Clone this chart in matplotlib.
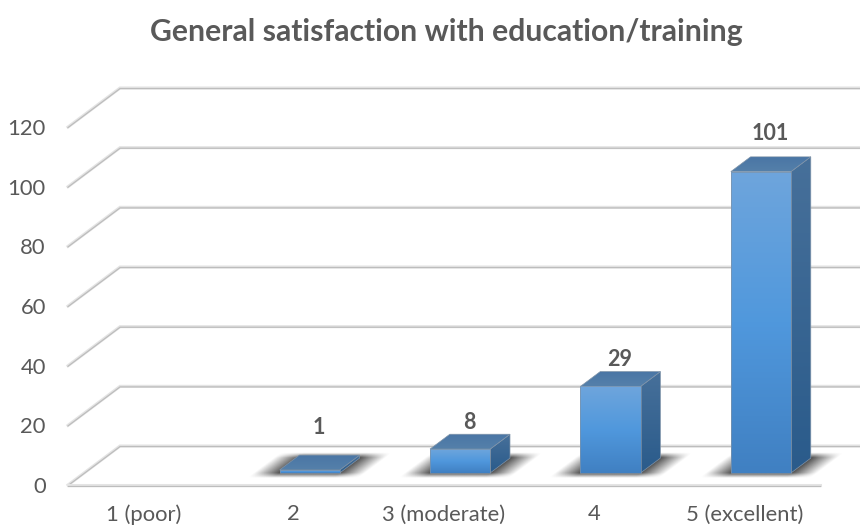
import numpy as np
import matplotlib
matplotlib.use('Agg')
import matplotlib.pyplot as plt
import matplotlib.patheffects as pe
from matplotlib.colors import LinearSegmentedColormap
from matplotlib.patches import Polygon

plt.rcParams['font.family'] = ['Lato', 'DejaVu Sans']

categories = ['1 (poor)', '2', '3 (moderate)', '4', '5 (excellent)']
values = [0, 1, 8, 29, 101]
y_ticks = [0, 20, 40, 60, 80, 100, 120]
title = 'General satisfaction with education/training'

TEXT = '#595959'
# oblique projection: how far the back wall is shifted from the front plane
DEPTH_X = 0.346
DEPTH_Y = 13.07
BAR_WIDTH = 0.40
BAR_NEAR = 0.31
BAR_FAR = 0.69

front_cmap = LinearSegmentedColormap.from_list('front', ['#6ea5dc', '#5098dd', '#4080c2'])
side_cmap = LinearSegmentedColormap.from_list('side', ['#47709a', '#2a5b8b'])
top_cmap = LinearSegmentedColormap.from_list('top', ['#4a76a5', '#5580aa'])


def project(x, y, depth):
    return x + depth * DEPTH_X, y + depth * DEPTH_Y


def soft_box(t, lo, hi, soft):
    a = np.clip((t - lo) / soft, 0, 1)
    b = np.clip((hi - t) / soft, 0, 1)
    return a * b


def gradient_face(ax, corners, cmap, zorder):
    xs = [c[0] for c in corners]
    ys = [c[1] for c in corners]
    grad = np.linspace(0, 1, 128).reshape(-1, 1)
    im = ax.imshow(grad, cmap=cmap, aspect='auto', origin='upper', zorder=zorder,
                   extent=[min(xs), max(xs), min(ys), max(ys)], clip_on=True)
    outline = Polygon(corners, closed=True, facecolor='none', edgecolor='#7f93a8',
                      linewidth=0.5, zorder=zorder + 0.1, clip_on=False)
    ax.add_patch(outline)
    im.set_clip_path(outline)


def floor_shadow(ax, center):
    # soft dark patch on the floor, sheared along the depth direction
    x = np.linspace(center - 0.5, center + 0.8, 300)
    y = np.linspace(0, 16, 120)
    xx, yy = np.meshgrid(x, y)
    depth = yy / DEPTH_Y
    u = xx - depth * DEPTH_X - center
    alpha = soft_box(u, -BAR_WIDTH / 2 - 0.17, BAR_WIDTH / 2 + 0.17, 0.17)
    alpha = alpha * soft_box(depth, 0.18, 0.83, 0.13) * 0.85
    rgba = np.zeros(xx.shape + (4,))
    rgba[..., :3] = 0.2
    rgba[..., 3] = alpha
    ax.imshow(rgba, aspect='auto', origin='lower', zorder=2, clip_on=False,
              extent=[x[0], x[-1], y[0], y[-1]], interpolation='bilinear')


def draw_bar(ax, center, value):
    left = center - BAR_WIDTH / 2
    right = center + BAR_WIDTH / 2
    fbl = project(left, 0, BAR_NEAR)
    fbr = project(right, 0, BAR_NEAR)
    ftl = project(left, value, BAR_NEAR)
    ftr = project(right, value, BAR_NEAR)
    bbr = project(right, 0, BAR_FAR)
    btr = project(right, value, BAR_FAR)
    btl = project(left, value, BAR_FAR)
    floor_shadow(ax, center)
    gradient_face(ax, [fbr, bbr, btr, ftr], side_cmap, 3)
    gradient_face(ax, [ftl, ftr, btr, btl], top_cmap, 3.2)
    gradient_face(ax, [fbl, fbr, ftr, ftl], front_cmap, 3.4)
    return btr[1]


fig = plt.figure(figsize=(8.6, 5.25), dpi=100)
ax = fig.add_axes([68 / 860, 40 / 525, 752 / 860, 358 / 525])

x_lo, x_hi = -0.5, 4.5

# gridlines run across the back wall and fold forward along the left wall
grid_effects = [pe.Stroke(linewidth=2.2, foreground='#e4e4e4'),
                pe.Stroke(linewidth=0.9, foreground='#bdbdbd', offset=(0, -0.4))]
for tick in y_ticks:
    back_left = project(x_lo, tick, 1)
    back_right = project(x_hi, tick, 1)
    ax.plot([x_lo, back_left[0], back_right[0]], [tick, back_left[1], back_right[1]],
            color='#bdbdbd', zorder=1, clip_on=False, solid_joinstyle='miter',
            path_effects=grid_effects)

# front edge of the floor
ax.plot([x_lo, x_hi], [0, 0], color='#bdbdbd', zorder=1, clip_on=False,
        path_effects=grid_effects)

label_pads = [0, 28, 12, 12, 23]
for i, value in enumerate(values):
    if value == 0:
        continue
    top = draw_bar(ax, i, value)
    ax.annotate(str(value), xy=(i + 0.17, top), xytext=(0, label_pads[i] * 0.72),
                textcoords='offset points', ha='center', va='center',
                fontsize=15.5, fontweight='bold', color=TEXT, zorder=5)

ax.set_xlim(x_lo, x_hi)
ax.set_ylim(0, 120)
ax.set_xticks(range(len(categories)))
ax.set_xticklabels(categories)
ax.set_yticks(y_ticks)
ax.set_yticklabels([])
ax.tick_params(axis='both', length=0, labelsize=15.8, labelcolor=TEXT)
ax.tick_params(axis='x', pad=14)
# value labels sit slightly below their gridline ends
for tick in y_ticks:
    ax.annotate(str(tick), xy=(0, tick), xycoords=ax.get_yaxis_transform(),
                xytext=(-16, -1.5), textcoords='offset points', ha='right', va='center',
                fontsize=15.8, color=TEXT)
for spine in ax.spines.values():
    spine.set_visible(False)
ax.patch.set_visible(False)

fig.text(446.5 / 860, 1 - 32 / 525, title, ha='center', va='center',
         fontsize=21.7, fontweight='bold', color=TEXT)

fig.savefig('out.png', dpi=100)
